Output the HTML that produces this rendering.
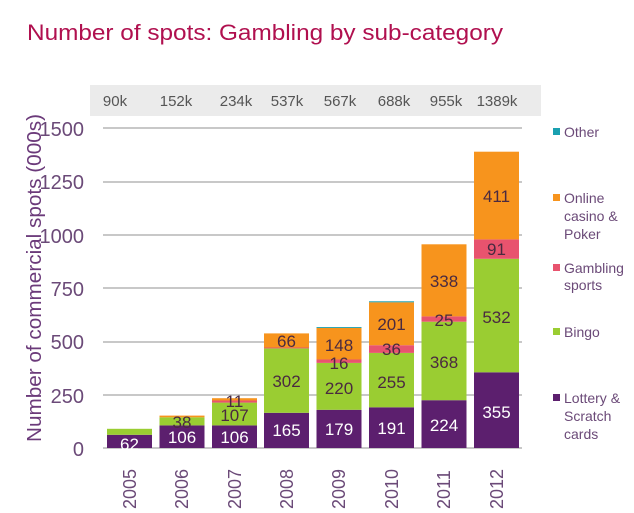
<!DOCTYPE html>
<html><head><style>body{margin:0;background:#fff}svg{display:block}</style></head><body>
<svg width="634" height="513" xmlns="http://www.w3.org/2000/svg" font-family="Liberation Sans, sans-serif">
<text x="27" y="40" font-size="22" fill="#b0104f" textLength="476" lengthAdjust="spacingAndGlyphs">Number of spots: Gambling by sub-category</text>
<rect x="90" y="85" width="451" height="31" fill="#ebebeb"/>
<g font-size="15" fill="#555" text-anchor="middle">
<text x="115" y="106">90k</text><text x="176" y="106">152k</text><text x="236" y="106">234k</text><text x="287" y="106">537k</text><text x="340" y="106">567k</text><text x="394" y="106">688k</text><text x="446" y="106">955k</text><text x="497" y="106">1389k</text></g>
<g stroke="#c8c8c8" stroke-width="2">
<line x1="103" y1="128" x2="522" y2="128"/><line x1="103" y1="182" x2="522" y2="182"/><line x1="103" y1="235" x2="522" y2="235"/><line x1="103" y1="288" x2="522" y2="288"/><line x1="103" y1="342" x2="522" y2="342"/><line x1="103" y1="395" x2="522" y2="395"/><line x1="103" y1="448" x2="522" y2="448"/></g>
<g font-size="20" fill="#6b4a78" text-anchor="end">
<text x="84" y="136">1500</text><text x="84" y="189">1250</text><text x="84" y="243">1000</text><text x="84" y="296">750</text><text x="84" y="349">500</text><text x="84" y="403">250</text><text x="84" y="456">0</text></g>
<text transform="translate(41,278) rotate(-90)" font-size="20" fill="#6b3a7a" text-anchor="middle" textLength="328" lengthAdjust="spacingAndGlyphs">Number of commercial spots (000s)</text>
<g>
<g fill="#5c1f6e">
<rect x="107" y="434.8" width="45" height="13.2"/><rect x="159.5" y="425.4" width="45" height="22.6"/><rect x="212" y="425.4" width="45" height="22.6"/><rect x="264" y="412.8" width="45" height="35.2"/><rect x="316.5" y="409.8" width="45" height="38.2"/><rect x="369" y="407.3" width="45" height="40.7"/><rect x="421.5" y="400.2" width="45" height="47.8"/><rect x="474" y="372.3" width="45" height="75.7"/></g>
<g fill="#9acd32">
<rect x="107" y="428.8" width="45" height="6"/><rect x="159.5" y="417.3" width="45" height="8.1"/><rect x="212" y="402.6" width="45" height="22.8"/><rect x="264" y="348.4" width="45" height="64.4"/><rect x="316.5" y="362.9" width="45" height="46.9"/><rect x="369" y="352.9" width="45" height="54.4"/><rect x="421.5" y="321.7" width="45" height="78.5"/><rect x="474" y="258.8" width="45" height="113.5"/></g>
<g fill="#e8536e">
<rect x="212" y="400.5" width="45" height="2.1"/><rect x="264" y="347.5" width="45" height="0.9"/><rect x="316.5" y="359.5" width="45" height="3.4"/><rect x="369" y="345.2" width="45" height="7.7"/><rect x="421.5" y="316.4" width="45" height="5.3"/><rect x="474" y="239.4" width="45" height="19.4"/></g>
<g fill="#f7941d">
<rect x="159.5" y="415.6" width="45" height="1.7"/><rect x="212" y="398.2" width="45" height="2.3"/><rect x="264" y="333.4" width="45" height="14.1"/><rect x="316.5" y="327.9" width="45" height="31.6"/><rect x="369" y="302.3" width="45" height="42.9"/><rect x="421.5" y="244.3" width="45" height="72.1"/><rect x="474" y="151.7" width="45" height="87.7"/></g>
<g fill="#1aa0b0"><rect x="316.5" y="327" width="45" height="0.9"/><rect x="369" y="301.3" width="45" height="1"/></g>
</g>
<g font-size="17" text-anchor="middle" fill="#fff">
<text x="129.5" y="450">62</text><text x="182" y="443">106</text><text x="234.5" y="443">106</text><text x="286.5" y="436">165</text><text x="339" y="435">179</text><text x="391.5" y="434">191</text><text x="444" y="431">224</text><text x="496.5" y="418">355</text></g>
<g font-size="17" text-anchor="middle" fill="#4a2a40">
<text x="182" y="428">38</text><text x="234.5" y="421">107</text><text x="234.5" y="407">11</text>
<text x="286.5" y="387">302</text><text x="286.5" y="347">66</text>
<text x="339" y="394">220</text><text x="339" y="369">16</text><text x="339" y="351">148</text>
<text x="391.5" y="388">255</text><text x="391.5" y="355">36</text><text x="391.5" y="330">201</text>
<text x="444" y="368">368</text><text x="444" y="326">25</text><text x="444" y="287">338</text>
<text x="496.5" y="323">532</text><text x="496.5" y="255">91</text><text x="496.5" y="202">411</text></g>
<g font-size="18" fill="#6b4a78">
<text transform="translate(136,509) rotate(-90)">2005</text><text transform="translate(188,509) rotate(-90)">2006</text><text transform="translate(241,509) rotate(-90)">2007</text><text transform="translate(293,509) rotate(-90)">2008</text><text transform="translate(345,509) rotate(-90)">2009</text><text transform="translate(398,509) rotate(-90)">2010</text><text transform="translate(450,509) rotate(-90)">2011</text><text transform="translate(503,509) rotate(-90)">2012</text></g>
<rect x="553" y="128" width="7" height="7" fill="#1aa0b0"/>
<rect x="553" y="194" width="7" height="7" fill="#f7941d"/>
<rect x="553" y="264" width="7" height="7" fill="#e8536e"/>
<rect x="553" y="328" width="7" height="7" fill="#9acd32"/>
<rect x="553" y="394" width="7" height="7" fill="#5c1f6e"/>
<g font-size="14" fill="#6b4a78">
<text x="564" y="137">Other</text>
<text x="564" y="203">Online</text><text x="564" y="221">casino &amp;</text><text x="564" y="239">Poker</text>
<text x="564" y="273">Gambling</text><text x="564" y="290">sports</text>
<text x="564" y="337">Bingo</text>
<text x="564" y="403">Lottery &amp;</text><text x="564" y="421">Scratch</text><text x="564" y="439">cards</text></g>
</svg>
</body></html>
